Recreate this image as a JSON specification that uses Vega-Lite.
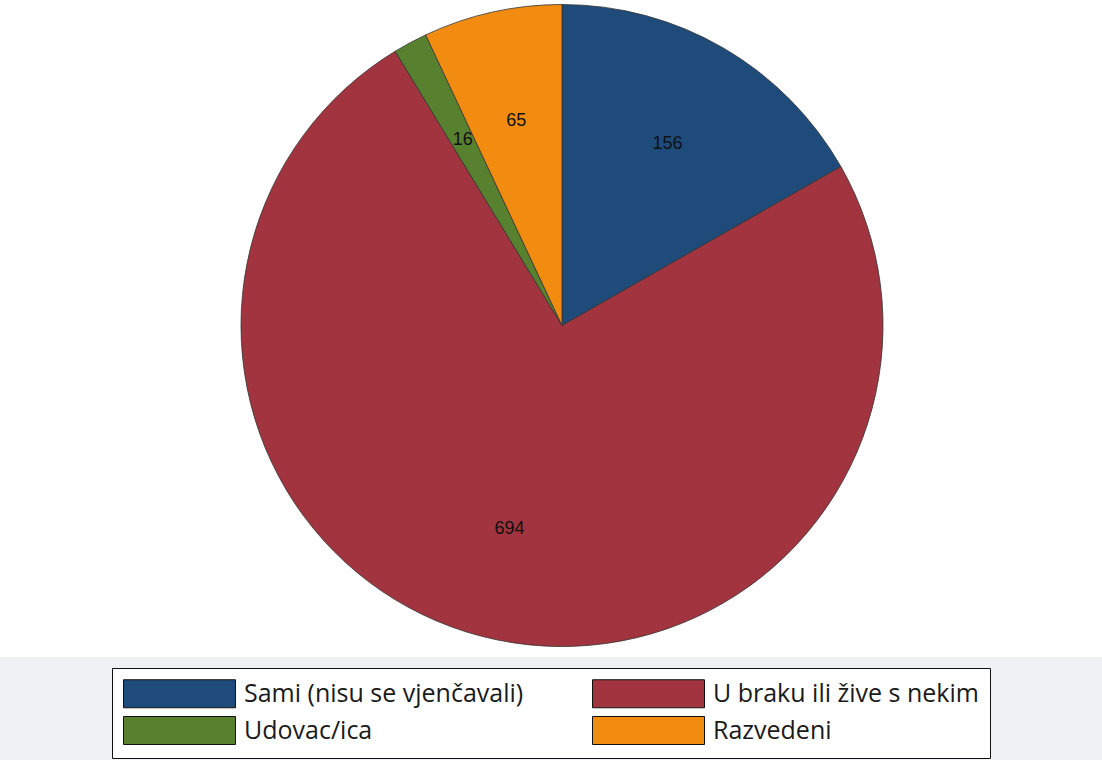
{
  "$schema": "https://vega.github.io/schema/vega-lite/v6.json",
  "width": 1102,
  "height": 657,
  "autosize": {"type": "none"},
  "padding": {"left": 0, "top": 0, "right": 0, "bottom": 103},
  "background": "#eef2f5",
  "view": {"stroke": null, "fill": "white"},
  "data": {
    "values": [
      {"status": "Sami (nisu se vjenčavali)", "count": 156, "order": 1},
      {"status": "U braku ili žive s nekim", "count": 694, "order": 2},
      {"status": "Udovac/ica", "count": 16, "order": 3},
      {"status": "Razvedeni", "count": 65, "order": 4}
    ]
  },
  "encoding": {
    "theta": {"field": "count", "type": "quantitative", "stack": true},
    "order": {"field": "order", "type": "quantitative"}
  },
  "layer": [
    {
      "mark": {"type": "arc", "radius": 321, "xOffset": 11, "yOffset": -3, "stroke": "#333", "strokeWidth": 0.8},
      "encoding": {
        "color": {
          "field": "status",
          "type": "nominal",
          "scale": {
            "domain": ["Sami (nisu se vjenčavali)", "U braku ili žive s nekim", "Udovac/ica", "Razvedeni"],
            "range": ["#1f4b7a", "#a1343e", "#57802f", "#f28c10"]
          },
          "legend": {
            "orient": "none",
            "legendX": 112,
            "legendY": 668,
            "columns": 2,
            "direction": "horizontal",
            "title": null,
            "symbolType": "M-1,-1H7V1H-1Z",
            "symbolSize": 784,
            "symbolStrokeColor": "#111",
            "symbolStrokeWidth": 1,
            "symbolOpacity": 1,
            "labelFont": "Open Sans",
            "labelFontSize": 25,
            "labelColor": "#1a1a1a",
            "labelOffset": 92,
            "labelLimit": 400,
            "columnPadding": 66,
            "rowPadding": 4,
            "padding": 11,
            "fillColor": "white",
            "strokeColor": "#111"
          }
        }
      }
    },
    {
      "mark": {"type": "text", "radius": 210, "xOffset": 11, "yOffset": -3, "font": "Liberation Sans", "fontSize": 18, "fill": "#111"},
      "encoding": {
        "text": {"field": "count", "type": "quantitative"}
      }
    }
  ]
}
